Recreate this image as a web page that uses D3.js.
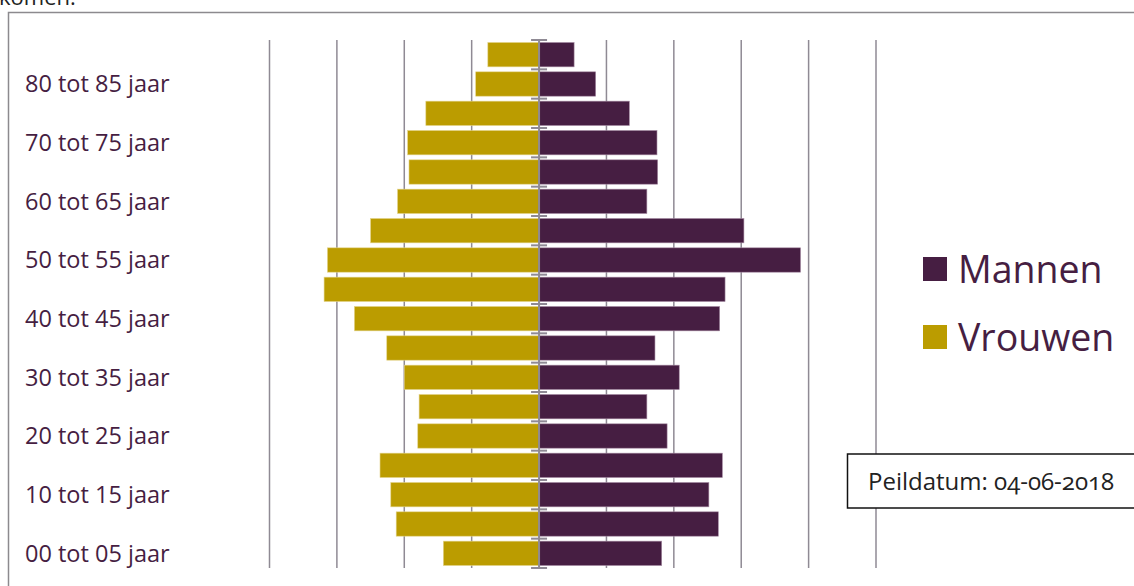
<!DOCTYPE html>
<html>
<head>
<meta charset="utf-8">
<script src="https://cdn.jsdelivr.net/npm/d3@7"></script>
<style>
  html, body { margin: 0; padding: 0; background: #fff; overflow: hidden; }
  svg { display: block; font-family: "Open Sans", Lato, sans-serif; }
</style>
</head>
<body>
<svg></svg>
<script>
var width = 1134;
var height = 586;

// age groups, bottom to top
var ageGroups = ['00 tot 05 jaar', '05 tot 10 jaar', '10 tot 15 jaar', '15 tot 20 jaar',
  '20 tot 25 jaar', '25 tot 30 jaar', '30 tot 35 jaar', '35 tot 40 jaar',
  '40 tot 45 jaar', '45 tot 50 jaar', '50 tot 55 jaar', '55 tot 60 jaar',
  '60 tot 65 jaar', '65 tot 70 jaar', '70 tot 75 jaar', '75 tot 80 jaar',
  '80 tot 85 jaar', '85 jaar en ouder'];
var mannen = [18.2, 26.6, 25.2, 27.2, 19.0, 16.0, 20.8, 17.2, 26.8, 27.6,
  38.8, 30.4, 16.0, 17.6, 17.5, 13.4, 8.4, 5.2];
var vrouwen = [14.2, 21.2, 22.0, 23.6, 18.0, 17.8, 20.0, 22.6, 27.4, 31.9,
  31.4, 25.0, 21.0, 19.3, 19.5, 16.8, 9.4, 7.6];
var gridTicks = [-40, -30, -20, -10, 10, 20, 30, 40, 50];
var seriesNames = ['Mannen', 'Vrouwen'];
var peildatum = 'Peildatum: 04-06-2018';

var colMan = '#461e42';
var colVrouw = '#bb9c00';
var gridCol = '#8f8a94';

var svg = d3.select('svg')
  .attr('width', width)
  .attr('height', height);

// cut-off text from the document above
svg.append('text')
  .attr('x', -1)
  .attr('y', 5)
  .attr('font-size', 22)
  .attr('fill', '#222')
  .text('komen.');

// outer frame
svg.append('rect')
  .attr('x', 8.5)
  .attr('y', 12.5)
  .attr('width', width + 10)
  .attr('height', height)
  .attr('fill', 'none')
  .attr('stroke', '#8c8a8e')
  .attr('stroke-width', 1.5);

var x = d3.scaleLinear().domain([-40, 50]).range([269.5, 876]);
var y = d3.scaleBand()
  .domain(ageGroups.slice().reverse())
  .range([40, 568])
  .paddingInner(0.17)
  .paddingOuter(0.085);

// vertical gridlines
svg.append('g')
  .selectAll('line')
  .data(gridTicks)
  .enter().append('line')
  .attr('x1', function (d) { return x(d); })
  .attr('x2', function (d) { return x(d); })
  .attr('y1', 40)
  .attr('y2', 568)
  .attr('stroke', gridCol)
  .attr('stroke-width', 1.5);

var g = svg.append('g');

g.selectAll('rect.man')
  .data(mannen)
  .enter().append('rect')
  .attr('class', 'man')
  .attr('x', x(0))
  .attr('y', function (d, i) { return y(ageGroups[i]); })
  .attr('width', function (d) { return x(d) - x(0); })
  .attr('height', y.bandwidth())
  .attr('fill', colMan)
  .attr('stroke', '#a58aa2')
  .attr('stroke-width', 0.6);

g.selectAll('rect.vrouw')
  .data(vrouwen)
  .enter().append('rect')
  .attr('class', 'vrouw')
  .attr('x', function (d) { return x(-d); })
  .attr('y', function (d, i) { return y(ageGroups[i]); })
  .attr('width', function (d) { return x(0) - x(-d); })
  .attr('height', y.bandwidth())
  .attr('fill', colVrouw)
  .attr('stroke', '#e3d38a')
  .attr('stroke-width', 0.6);

// centre axis with tick marks on category boundaries
var axis = svg.append('g');
axis.append('line')
  .attr('x1', x(0)).attr('x2', x(0))
  .attr('y1', 40).attr('y2', 568)
  .attr('stroke', gridCol)
  .attr('stroke-width', 2);

var bounds = ageGroups.map(function (a) { return y(a) - y.step() * y.paddingInner() / 2; });
bounds.push(568);
axis.selectAll('line.tick')
  .data(bounds)
  .enter().append('line')
  .attr('class', 'tick')
  .attr('x1', x(0) - 8).attr('x2', x(0) + 8)
  .attr('y1', function (d) { return d; })
  .attr('y2', function (d) { return d; })
  .attr('stroke', gridCol)
  .attr('stroke-width', 2);

// category labels (every other one)
svg.append('g')
  .selectAll('text')
  .data(ageGroups.filter(function (d, i) { return i % 2 === 0; }))
  .enter().append('text')
  .attr('x', 25)
  .attr('y', function (d) { return y(d) + y.bandwidth() / 2; })
  .attr('dy', '0.36em')
  .attr('font-size', 23.5)
  .attr('fill', '#461e42')
  .text(function (d) { return d; });

// legend
var legend = svg.append('g');
seriesNames.forEach(function (name, i) {
    var ly = 257 + i * 68;
    legend.append('rect')
      .attr('x', 923)
      .attr('y', ly)
      .attr('width', 24)
      .attr('height', 24)
      .attr('fill', i === 0 ? colMan : colVrouw);
    legend.append('text')
      .attr('x', 958)
      .attr('y', ly + 25.5)
      .attr('font-size', 37.5)
      .attr('fill', '#461e42')
      .text(name);
});

// peildatum box
svg.append('rect')
  .attr('x', 847.5)
  .attr('y', 454)
  .attr('width', 300)
  .attr('height', 54)
  .attr('fill', '#fff')
  .attr('stroke', '#111')
  .attr('stroke-width', 1.5);

svg.append('text')
  .attr('x', 868)
  .attr('y', 490)
  .attr('font-size', 24)
  .attr('fill', '#222')
  .style('font-variant-numeric', 'oldstyle-nums')
  .text(peildatum);
</script>
</body>
</html>
